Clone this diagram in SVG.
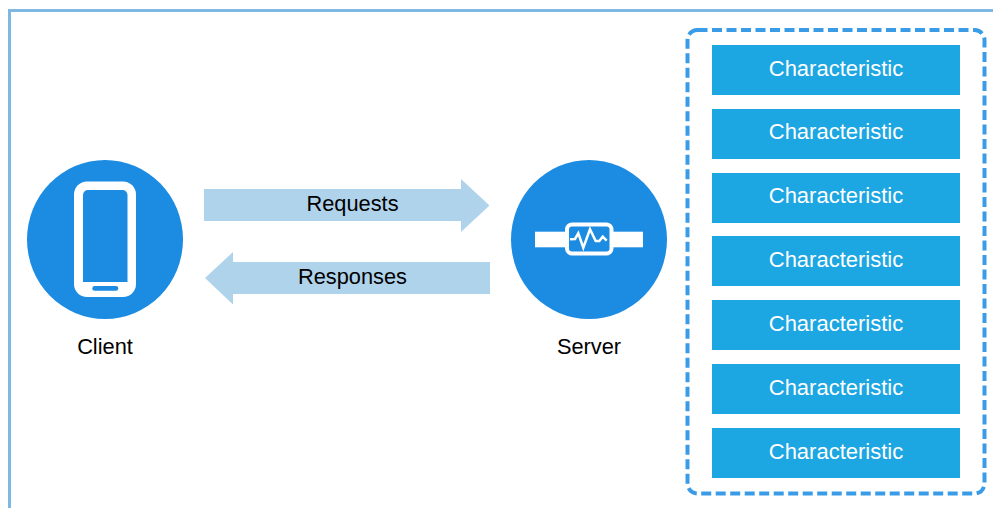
<svg xmlns="http://www.w3.org/2000/svg" width="993" height="508" viewBox="0 0 993 508">
<style>
.t{font-family:"Liberation Sans",Arial,sans-serif;font-size:21.8px;text-anchor:middle;fill:#000}
.c{fill:#fff;font-size:22px}
.b{fill:#1ca6e2}
.n{fill:#1c8ce3}
.a{fill:#b0d3ec}
.w{fill:#fff}
</style>
<rect width="993" height="508" fill="#fff"/>
<path id="frame" d="M9.500 508V10.500H993" fill="none" stroke="#7fb8e2" stroke-width="3"/>
<g id="connectors">
<g id="requests">
<path class="a" d="M204 189H461V179L489.500 205.500L461 232V221H204Z"/>
<text class="t" x="352.500" y="211">Requests</text>
</g>
<g id="responses">
<path class="a" d="M490 262H233V252L205 278L233 304.500V294H490Z"/>
<text class="t" x="352.500" y="284">Responses</text>
</g>
</g>
<g id="client">
<ellipse class="n" cx="105" cy="239.500" rx="78" ry="79.500"/>
<rect class="w" x="74" y="181.500" width="62" height="115.500" rx="13"/>
<path class="n" d="M83 282V195a5 5 0 0 1 5-5H122.500a5 5 0 0 1 5 5V282Z"/>
<rect class="n" x="92.300" y="286" width="26" height="4.800" rx="2.400"/>
<text class="t" x="105" y="354">Client</text>
</g>
<g id="server">
<ellipse class="n" cx="589" cy="239.500" rx="78" ry="79.500"/>
<rect class="w" x="535" y="231.700" width="108" height="15.600"/>
<rect x="567" y="224.500" width="44.500" height="29" rx="5" fill="#1c8ce3" stroke="#fff" stroke-width="4"/>
<path d="M570 239.300L575 239L578.300 233.300L583.300 247.700L590 229.300L595.700 241H599.300L602.700 236.700L606.700 240.700" fill="none" stroke="#fff" stroke-width="2.500"/>
<text class="t" x="589" y="354">Server</text>
</g>
<g id="characteristics">
<rect x="687.500" y="30" width="297" height="463.500" rx="10" fill="none" stroke="#3a9be6" stroke-width="4" stroke-dasharray="10 4.500"/>
<g id="c1"><rect class="b" x="712" y="45" width="248" height="50"/><text class="t c" x="836" y="76">Characteristic</text></g>
<g id="c2"><rect class="b" x="712" y="109" width="248" height="50"/><text class="t c" x="836" y="139">Characteristic</text></g>
<g id="c3"><rect class="b" x="712" y="173" width="248" height="50"/><text class="t c" x="836" y="203">Characteristic</text></g>
<g id="c4"><rect class="b" x="712" y="236" width="248" height="50"/><text class="t c" x="836" y="267">Characteristic</text></g>
<g id="c5"><rect class="b" x="712" y="300" width="248" height="50"/><text class="t c" x="836" y="331">Characteristic</text></g>
<g id="c6"><rect class="b" x="712" y="364" width="248" height="50"/><text class="t c" x="836" y="395">Characteristic</text></g>
<g id="c7"><rect class="b" x="712" y="428" width="248" height="50"/><text class="t c" x="836" y="459">Characteristic</text></g>
</g>
</svg>
